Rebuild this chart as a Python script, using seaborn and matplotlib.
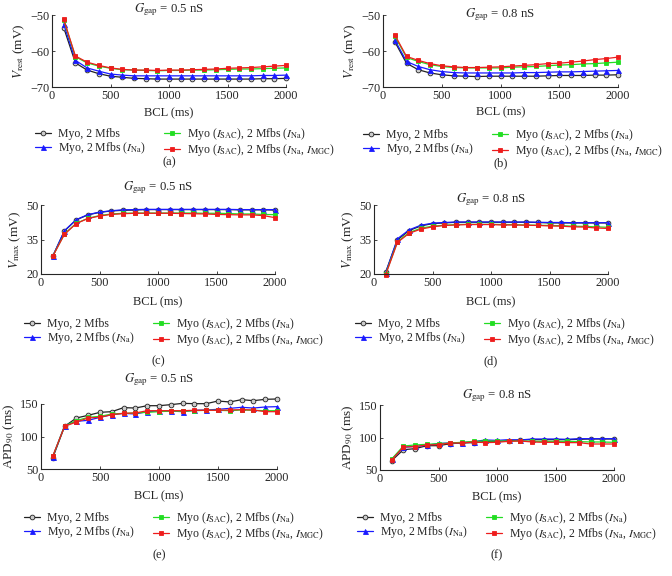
import matplotlib
matplotlib.use("Agg")
import matplotlib.pyplot as plt
import pandas as pd
import seaborn as sns

sns.set_theme(style="ticks")
plt.rcParams['font.family'] = ['Liberation Serif', 'DejaVu Serif']
plt.rcParams['mathtext.fontset'] = 'stix'
plt.rcParams['xtick.direction'] = 'in'
plt.rcParams['ytick.direction'] = 'in'

bcl = list(range(100, 2001, 100))

series_names = ["Myo, 2 Mfbs",
                r"Myo, 2 Mfbs ($I_{\rm Na}$)",
                r"Myo ($I_{\rm SAC}$), 2 Mfbs ($I_{\rm Na}$)",
                r"Myo ($I_{\rm SAC}$), 2 Mfbs ($I_{\rm Na}$, $I_{\rm MGC}$)"]

# (a) Vrest, Ggap = 0.5 nS
vrest_05_black = [-53.5, -63.3, -65.3, -66.3, -67.0, -67.3, -67.6, -67.7, -67.8, -67.8,
                  -67.8, -67.8, -67.8, -67.8, -67.8, -67.8, -67.8, -67.7, -67.7, -67.6]
vrest_05_blue = [-52.5, -62.6, -64.7, -65.6, -66.4, -66.7, -66.9, -66.9, -66.9, -66.9,
                 -66.9, -66.9, -66.9, -66.9, -66.9, -66.9, -66.9, -66.8, -66.8, -66.7]
vrest_05_green = [-51.4, -61.6, -63.3, -64.2, -64.8, -65.2, -65.3, -65.4, -65.5, -65.4,
                  -65.4, -65.3, -65.3, -65.2, -65.1, -65.0, -65.0, -64.9, -64.8, -64.7]
vrest_05_red = [-51.2, -61.4, -63.1, -64.0, -64.7, -65.1, -65.3, -65.3, -65.4, -65.3,
                -65.3, -65.2, -65.1, -65.0, -64.8, -64.7, -64.6, -64.4, -64.2, -64.0]

# (b) Vrest, Ggap = 0.8 nS
vrest_08_black = [-57.4, -63.4, -65.2, -66.1, -66.6, -66.9, -67.0, -67.1, -67.0, -67.0,
                  -67.0, -67.0, -67.0, -66.9, -66.8, -66.8, -66.8, -66.7, -66.7, -66.6]
vrest_08_blue = [-56.9, -62.9, -64.3, -65.2, -65.7, -66.0, -66.1, -66.1, -66.1, -66.1,
                 -66.1, -66.0, -66.0, -65.9, -65.8, -65.8, -65.7, -65.6, -65.5, -65.4]
vrest_08_green = [-55.8, -61.8, -62.9, -63.8, -64.3, -64.6, -64.7, -64.7, -64.7, -64.7,
                  -64.5, -64.4, -64.3, -64.1, -63.9, -63.8, -63.6, -63.5, -63.3, -63.1]
vrest_08_red = [-55.5, -61.5, -62.6, -63.5, -64.1, -64.4, -64.6, -64.6, -64.5, -64.4,
                -64.2, -64.0, -63.8, -63.5, -63.4, -63.1, -62.8, -62.4, -62.1, -61.7]

# (c) Vmax, Ggap = 0.5 nS
vmax_05_black = [27.7, 38.7, 43.5, 45.7, 46.8, 47.4, 47.7, 47.8, 48.0, 48.0,
                 48.0, 48.0, 48.0, 48.0, 48.0, 48.0, 47.9, 47.9, 47.9, 47.8]
vmax_05_blue = [27.7, 38.8, 43.6, 45.8, 46.9, 47.5, 47.9, 48.0, 48.1, 48.1,
                48.1, 48.1, 48.1, 48.1, 48.1, 48.1, 48.0, 48.0, 48.0, 48.0]
vmax_05_green = [27.7, 37.4, 42.0, 44.2, 45.4, 46.1, 46.4, 46.5, 46.5, 46.5,
                 46.5, 46.5, 46.5, 46.4, 46.4, 46.3, 46.1, 46.1, 45.9, 45.8]
vmax_05_red = [27.7, 37.2, 41.9, 44.1, 45.2, 45.9, 46.2, 46.4, 46.4, 46.4,
               46.4, 46.3, 46.2, 46.1, 45.9, 45.8, 45.7, 45.7, 45.4, 44.5]

# (d) Vmax, Ggap = 0.8 nS
vmax_08_black = [20.8, 34.8, 38.9, 40.9, 41.9, 42.2, 42.5, 42.5, 42.5, 42.5,
                 42.5, 42.5, 42.5, 42.4, 42.2, 42.2, 42.2, 42.2, 42.2, 42.2]
vmax_08_blue = [20.6, 35.3, 39.2, 41.2, 42.1, 42.4, 42.6, 42.6, 42.6, 42.6,
                42.6, 42.6, 42.6, 42.5, 42.4, 42.4, 42.3, 42.3, 42.3, 42.3]
vmax_08_green = [20.0, 34.0, 38.0, 39.9, 40.8, 41.2, 41.5, 41.6, 41.6, 41.6,
                 41.5, 41.5, 41.3, 41.2, 41.1, 41.0, 40.8, 40.7, 40.5, 40.3]
vmax_08_red = [19.7, 33.7, 37.7, 39.5, 40.5, 41.1, 41.3, 41.5, 41.5, 41.5,
               41.3, 41.3, 41.2, 41.1, 40.9, 40.8, 40.5, 40.4, 40.0, 39.8]

# (e) APD90, Ggap = 0.5 nS
apd_05_black = [67.4, 115.6, 128.5, 132.6, 137.2, 138.2, 144.4, 143.8, 147.4, 147.4,
                149.0, 151.0, 150.5, 150.5, 154.6, 153.1, 156.7, 155.1, 157.2, 157.7]
apd_05_blue = [69.0, 116.7, 123.3, 124.9, 129.5, 133.6, 135.6, 134.6, 138.2, 139.2,
               139.2, 138.2, 140.3, 140.8, 141.8, 143.3, 144.9, 143.8, 145.4, 145.9]
apd_05_green = [69.5, 116.2, 124.4, 129.5, 131.0, 134.6, 135.6, 136.2, 137.2, 138.2,
                139.2, 138.7, 139.7, 140.3, 140.3, 139.7, 140.8, 140.3, 139.7, 139.7]
apd_05_red = [70.0, 115.6, 122.3, 128.5, 129.5, 133.6, 135.6, 136.2, 139.7, 139.7,
              139.7, 139.7, 140.3, 140.3, 140.3, 140.8, 141.3, 140.8, 138.2, 138.2]

# (f) APD90, Ggap = 0.8 nS
apd_08_black = [64.4, 81.3, 82.8, 87.4, 87.4, 90.5, 91.5, 92.1, 94.1, 94.1,
                95.1, 96.2, 96.7, 96.7, 96.7, 96.7, 97.2, 97.7, 97.7, 97.7]
apd_08_blue = [66.4, 84.9, 86.4, 87.9, 91.0, 91.5, 92.1, 93.6, 96.2, 95.6,
               96.7, 96.2, 97.7, 97.7, 97.7, 97.2, 98.2, 98.2, 98.2, 98.2]
apd_08_green = [66.9, 86.9, 88.5, 89.5, 90.5, 91.5, 92.6, 94.1, 94.6, 94.6,
                94.6, 94.6, 94.1, 94.1, 94.1, 94.1, 93.6, 93.1, 93.1, 92.6]
apd_08_red = [65.4, 85.4, 85.9, 88.5, 89.0, 91.5, 91.5, 93.1, 92.1, 92.6,
              94.1, 94.6, 93.1, 92.6, 92.6, 92.1, 92.1, 90.0, 90.0, 90.0]

colors = ['#222222', '#1a1aff', '#22dd22', '#ee1c1c']
markers = ['o', '^', 's', 's']
mfcs = ['#cccccc', '#1a1aff', '#22dd22', '#ee1c1c']
msizes = [3.4, 3.6, 2.5, 2.8]

panels = [
    # data, gap, ylabel, ylim, yticks, axes rect (px), title y, xlabel y, legend y, letter y, letter, legend x
    ([vrest_05_black, vrest_05_blue, vrest_05_green, vrest_05_red], "0.5",
     r"$V_{\rm rest}$ (mV)", (-70, -50), [-70, -60, -50],
     (52, 15, 286, 87), 10, 113, 142, 162, "(a)", 185),
    ([vrest_08_black, vrest_08_blue, vrest_08_green, vrest_08_red], "0.8",
     r"$V_{\rm rest}$ (mV)", (-70, -50), [-70, -60, -50],
     (383, 15, 618, 87), 15, 112, 143, 163, "(b)", 513),
    ([vmax_05_black, vmax_05_blue, vmax_05_green, vmax_05_red], "0.5",
     r"$V_{\rm max}$ (mV)", (20, 50), [20, 35, 50],
     (41, 205, 275, 274), 188, 302, 332, 361, "(c)", 174),
    ([vmax_08_black, vmax_08_blue, vmax_08_green, vmax_08_red], "0.8",
     r"$V_{\rm max}$ (mV)", (20, 50), [20, 35, 50],
     (374, 205, 608, 274), 200, 302, 332, 361, "(d)", 505),
    ([apd_05_black, apd_05_blue, apd_05_green, apd_05_red], "0.5",
     r"APD$_{90}$ (ms)", (50, 150), [50, 100, 150],
     (41, 404, 277, 469), 380, 496, 526, 555, "(e)", 174),
    ([apd_08_black, apd_08_blue, apd_08_green, apd_08_red], "0.8",
     r"APD$_{90}$ (ms)", (50, 150), [50, 100, 150],
     (380, 405, 614, 470), 396, 497, 526, 555, "(f)", 507),
]

W, H = 672, 576
fig = plt.figure(figsize=(W / 100, H / 100), dpi=100)

for (data, gap, ylab, ylim, yticks, rect, ty, xly, ly, lety, letter, lx) in panels:
    x0, y0, x1, y1 = rect
    ax = fig.add_axes([x0 / W, 1 - y1 / H, (x1 - x0) / W, (y1 - y0) / H])
    for vals, name, c, m, mfc, ms in zip(data, series_names, colors, markers, mfcs, msizes):
        df = pd.DataFrame({"BCL": bcl, "val": vals})
        sns.lineplot(data=df, x="BCL", y="val", ax=ax, color=c, marker=m,
                     markersize=ms, markerfacecolor=mfc, markeredgecolor=c,
                     markeredgewidth=0.6, linewidth=0.9, label=name, clip_on=False)
    ax.set_xlim(0, 2000)
    ax.set_ylim(*ylim)
    ax.set_xticks([0, 500, 1000, 1500, 2000])
    ax.set_yticks(yticks)
    ax.tick_params(labelsize=8.8, length=2, width=0.6, pad=2)
    for s in ['top', 'right']:
        ax.spines[s].set_visible(False)
    for s in ['left', 'bottom']:
        ax.spines[s].set_linewidth(0.8)
    ax.set_ylabel(ylab, fontsize=9.5, labelpad=2)
    ax.set_xlabel("")
    cx = (x0 + x1) / 2
    fig.text(cx / W, 1 - ty / H, r"$G_{\rm gap}$ = " + gap + " nS",
             ha='center', va='center', fontsize=9.2)
    fig.text(cx / W, 1 - xly / H, "BCL (ms)", ha='center', va='center', fontsize=9)
    fig.text(cx / W, 1 - lety / H, letter, ha='center', va='center', fontsize=9)
    ax.legend(loc='center', bbox_to_anchor=(lx / W, 1 - ly / H),
              bbox_transform=fig.transFigure, ncol=2, frameon=False,
              fontsize=8.5, handlelength=1.4, handletextpad=0.6,
              columnspacing=1.5, labelspacing=0.0, borderpad=0)

plt.savefig("out.png", dpi=100)
plt.close()
